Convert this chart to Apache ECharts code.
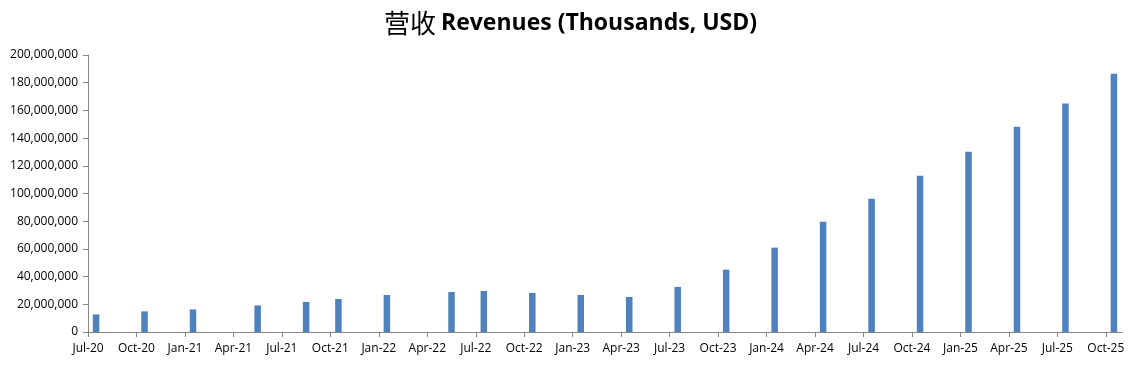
<!DOCTYPE html>
<html>
<head>
<meta charset="utf-8">
<script src="https://cdn.jsdelivr.net/npm/echarts@6/dist/echarts.min.js"></script>
<style>
html,body{margin:0;padding:0;background:#fff;}
#c{width:1141px;height:365px;}
</style>
</head>
<body>
<div id="c"></div>
<script>
// Report months (bar placed mid-month)
var reportMonths = ['2020-07','2020-10','2021-01','2021-05','2021-08','2021-10','2022-01','2022-05','2022-07','2022-10','2023-01','2023-04','2023-07','2023-10','2024-01','2024-04','2024-07','2024-10','2025-01','2025-04','2025-07','2025-10'];
// Revenues (thousands USD)
var revenues = [12700000,14900000,16300000,19200000,21700000,23800000,26700000,28900000,29600000,28200000,26700000,25300000,32600000,45000000,60900000,79600000,96200000,112900000,130200000,148200000,164900000,186500000];
// X tick labels (every 3 months starting Jul-20)
var tickLabels = ['Jul-20','Oct-20','Jan-21','Apr-21','Jul-21','Oct-21','Jan-22','Apr-22','Jul-22','Oct-22','Jan-23','Apr-23','Jul-23','Oct-23','Jan-24','Apr-24','Jul-24','Oct-24','Jan-25','Apr-25','Jul-25','Oct-25'];

var startY = 2020, startM = 7;
function monthIndex(s){
  var p = s.split('-');
  return (parseInt(p[0],10)-startY)*12 + (parseInt(p[1],10)-startM);
}
var data = reportMonths.map(function(m,i){ return [monthIndex(m)+0.5, revenues[i]]; });
var tickVals = tickLabels.map(function(_,i){ return i*3; });

var chart = echarts.init(document.getElementById('c'));
var axisColor = '#868686';
chart.setOption({
  animation:false,
  backgroundColor:'#fff',
  title:{
    text:'{cn|营收} {en|Revenues (Thousands, USD)}',
    left:'center', top:5,
    textStyle:{
      rich:{
        cn:{fontFamily:'Noto Sans CJK SC', fontSize:26, color:'#000', fontWeight:'normal'},
        en:{fontFamily:'Open Sans', fontSize:23, color:'#000', fontWeight:'bold'}
      }
    }
  },
  grid:{left:88, right:19, top:55, bottom:33, containLabel:false},
  xAxis:{
    type:'value', min:0, max:64,
    axisLine:{show:true, lineStyle:{color:axisColor, width:1}},
    axisTick:{show:true, length:5, customValues:tickVals, lineStyle:{color:axisColor}},
    axisLabel:{customValues:tickVals, margin:11, color:'#000', fontFamily:'Open Sans', fontSize:12,
      formatter:function(v){ var i=Math.round(v/3); return tickLabels[i]||''; }},
    splitLine:{show:false}
  },
  yAxis:{
    type:'value', min:0, max:200000000, interval:20000000,
    axisLine:{show:true, lineStyle:{color:axisColor, width:1}},
    axisTick:{show:true, length:5, lineStyle:{color:axisColor}},
    axisLabel:{margin:10, color:'#000', fontFamily:'Open Sans', fontSize:12,
      formatter:function(v){ return v.toLocaleString('en-US'); }},
    splitLine:{show:false}
  },
  series:[{
    type:'bar', data:data, barWidth:6.5,
    itemStyle:{color:'#4F81BD'}
  }]
});
</script>
</body>
</html>
